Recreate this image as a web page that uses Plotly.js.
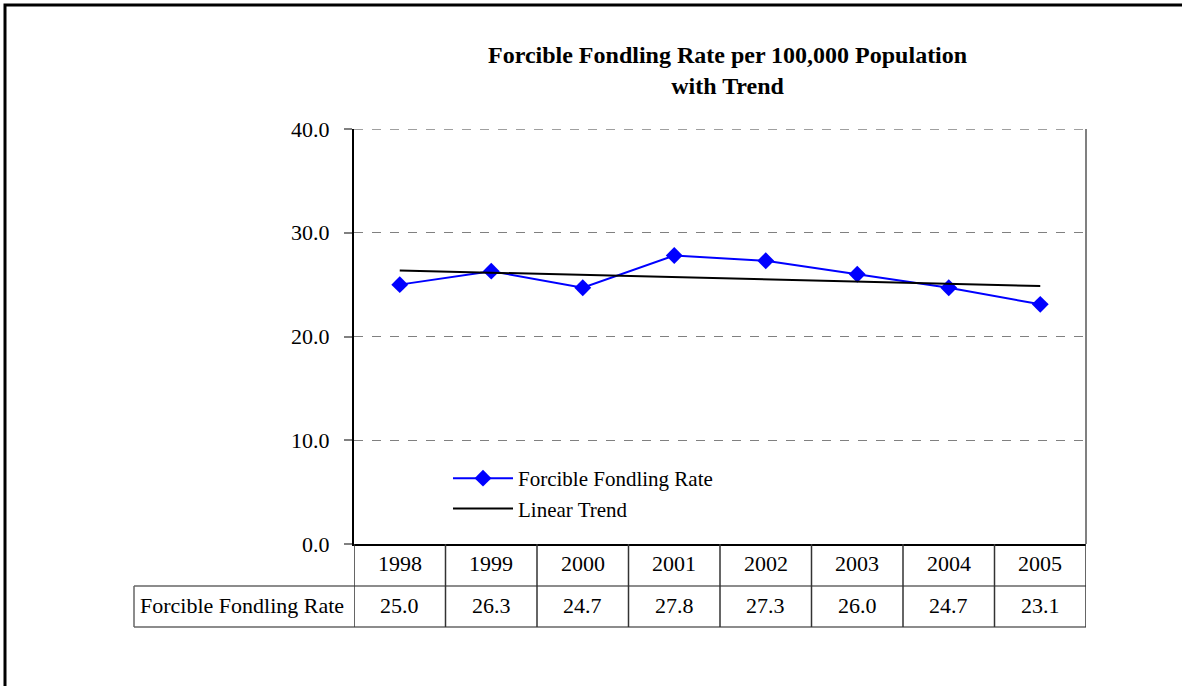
<!DOCTYPE html>
<html>
<head>
<meta charset="utf-8">
<script src="https://cdn.plot.ly/plotly-3.0.1.min.js"></script>
<style>html,body{margin:0;padding:0;background:#fff;}#chart{width:1182px;height:686px;}</style>
</head>
<body>
<div id="chart"></div>
<script>
// ---- data ----
var years = ["1998", "1999", "2000", "2001", "2002", "2003", "2004", "2005"];
var rates = [25.0, 26.3, 24.7, 27.8, 27.3, 26.0, 24.7, 23.1];
var rateLabels = ["25.0", "26.3", "24.7", "27.8", "27.3", "26.0", "24.7", "23.1"];
var trendYears = ["1998", "2005"];
var trendValues = [26.36, 24.87];
var yTicks = [0, 10, 20, 30, 40];
var yTickLabels = ["0.0", "10.0", "20.0", "30.0", "40.0"];
var seriesName = "Forcible Fondling Rate";
var trendName = "Linear Trend";
var titleText = "<b>Forcible Fondling Rate per 100,000 Population</b><br><b>with Trend</b>";

// ---- layout geometry (pixels) ----
var W = 1182, H = 686;
var L = 354, R = 1086, T = 129, B = 544;
function px(x) { return (x - L) / (R - L); }
function py(y) { return (B - y) / (B - T); }
var row1 = 586, row2 = 627, labelLeft = 134;
var FONT = "Liberation Serif, Times New Roman, serif";
var tableColor = "#666666";
var FS = 22;

var shapes = [];
var annotations = [];

// outer border (left and top visible)
shapes.push({type: "rect", xref: "paper", yref: "paper",
  x0: px(5), x1: px(1200), y0: py(5), y1: py(720),
  line: {color: "#000", width: 3}, layer: "below"});

// dashed top gridline at 40 and right border of plot area
shapes.push({type: "line", xref: "paper", yref: "y",
  x0: 0, x1: 1, y0: 40, y1: 40, line: {color: "#808080", width: 1.5, dash: "dash"}});
shapes.push({type: "line", xref: "paper", yref: "paper",
  x0: 1, x1: 1, y0: 0, y1: 1, line: {color: "#808080", width: 2}});

// table horizontal lines
shapes.push({type: "line", xref: "paper", yref: "paper",
  x0: px(labelLeft), x1: 1, y0: py(row1), y1: py(row1), line: {color: tableColor, width: 1.5}});
shapes.push({type: "line", xref: "paper", yref: "paper",
  x0: px(labelLeft), x1: 1, y0: py(row2), y1: py(row2), line: {color: tableColor, width: 1.5}});
// label cell left line
shapes.push({type: "line", xref: "paper", yref: "paper",
  x0: px(labelLeft), x1: px(labelLeft), y0: py(row1), y1: py(row2), line: {color: tableColor, width: 1.5}});
// vertical lines between categories
for (var i = 0; i <= years.length; i++) {
  shapes.push({type: "line", xref: "x", yref: "paper",
    x0: i - 0.5, x1: i - 0.5, y0: py(B), y1: py(row2), line: {color: "#333", width: 1.5}});
}

// table text
for (var j = 0; j < years.length; j++) {
  annotations.push({xref: "x", yref: "paper", x: j, y: py((B + row1) / 2 - 2),
    text: years[j], showarrow: false, font: {family: FONT, size: FS, color: "#000"},
    xanchor: "center", yanchor: "middle"});
  annotations.push({xref: "x", yref: "paper", x: j, y: py((row1 + row2) / 2 - 1),
    text: rateLabels[j], showarrow: false, font: {family: FONT, size: FS, color: "#000"},
    xanchor: "center", yanchor: "middle"});
}
annotations.push({xref: "paper", yref: "paper", x: px(labelLeft + 4), y: py((row1 + row2) / 2 - 1),
  text: seriesName, showarrow: false, font: {family: FONT, size: FS, color: "#000"},
  xanchor: "left", yanchor: "middle"});

// title
annotations.push({xref: "paper", yref: "paper", x: px(727), y: py(71),
  text: titleText, showarrow: false, font: {family: FONT, size: 24, color: "#000"},
  xanchor: "center", yanchor: "middle", align: "center"});

var traces = [
  {x: years, y: rates, type: "scatter", mode: "lines+markers", name: seriesName,
   line: {color: "#0000FF", width: 2},
   marker: {symbol: "diamond", size: 13, color: "#0000FF"}, cliponaxis: false},
  {x: trendYears, y: trendValues, type: "scatter", mode: "lines", name: trendName,
   line: {color: "#000", width: 2}}
];

var layout = {
  width: W, height: H,
  margin: {l: L, r: W - R, t: T, b: H - B, pad: 0},
  paper_bgcolor: "#fff", plot_bgcolor: "#fff",
  showlegend: true,
  legend: {x: px(448), y: py(458), xanchor: "left", yanchor: "top",
    font: {family: FONT, size: 21, color: "#000"}, bgcolor: "rgba(0,0,0,0)",
    tracegroupgap: 0, itemwidth: 60},
  xaxis: {type: "category", range: [-0.5, years.length - 0.5], showticklabels: false,
    showgrid: false, zeroline: false, showline: true, linecolor: "#000", linewidth: 2,
    ticks: "", fixedrange: true},
  yaxis: {range: [0, 40], tickvals: yTicks, ticktext: yTickLabels,
    showgrid: true, gridcolor: "#808080", griddash: "dash", gridwidth: 1,
    zeroline: false, showline: true, linecolor: "#000", linewidth: 2,
    ticks: "outside", ticklen: 8, tickcolor: "#808080", tickwidth: 2,
    ticklabelstandoff: 10,
    tickfont: {family: FONT, size: FS, color: "#000"}, fixedrange: true},
  shapes: shapes,
  annotations: annotations
};

Plotly.newPlot("chart", traces, layout, {displayModeBar: false, staticPlot: true});
</script>
</body>
</html>
